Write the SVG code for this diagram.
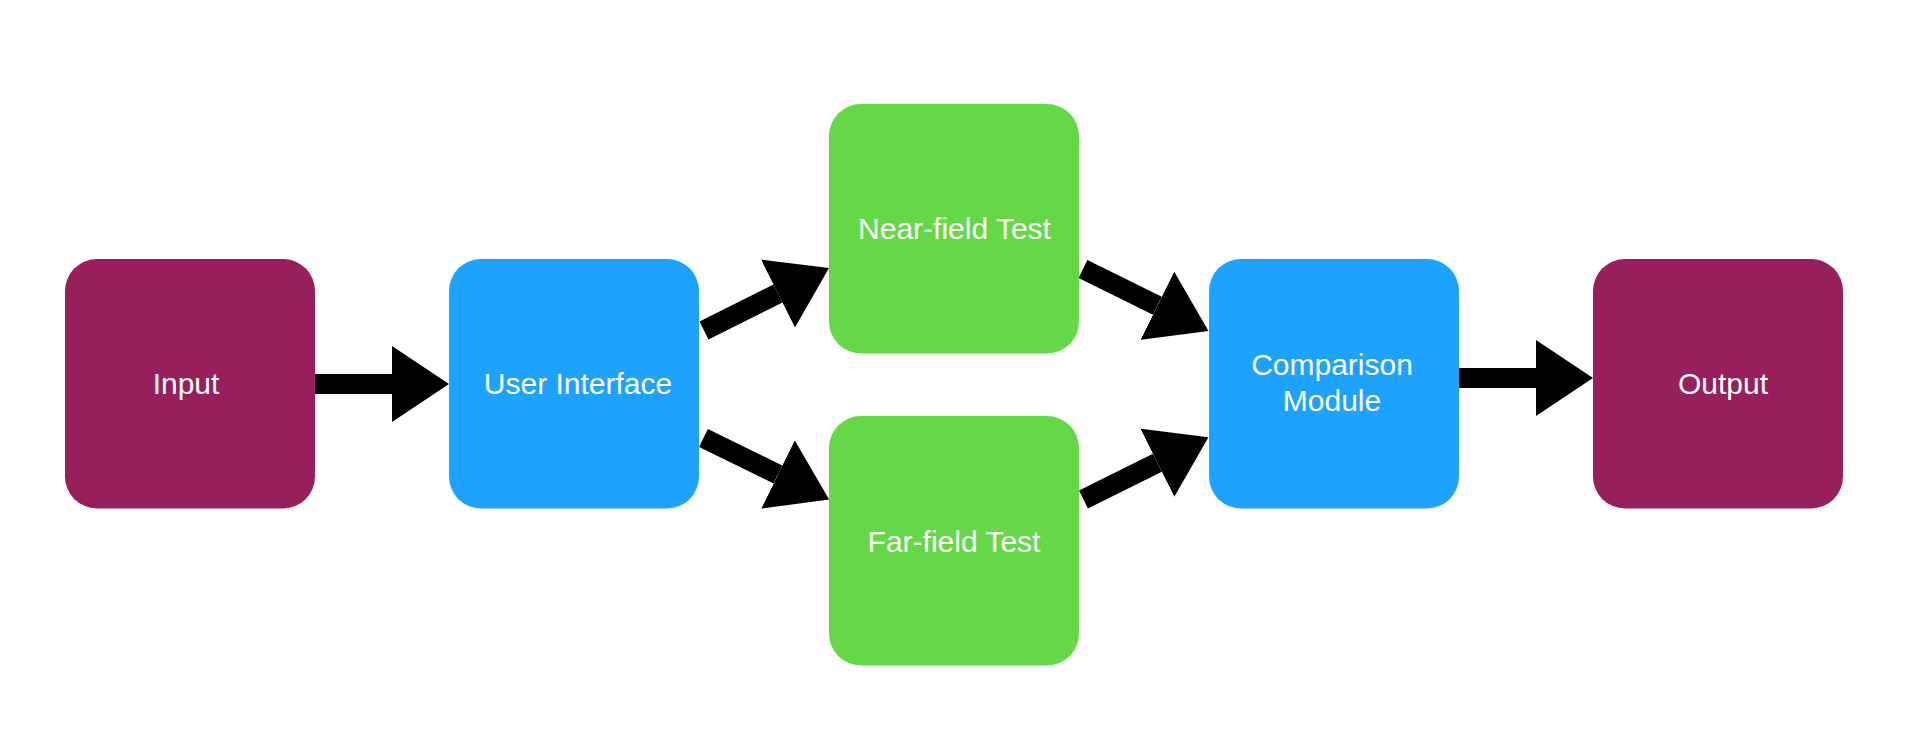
<svg xmlns="http://www.w3.org/2000/svg" width="1920" height="750" viewBox="0 0 1920 750">
  <style>
    .io { fill: #961F5C; }
    .blue { fill: #1DA2FD; }
    .green { fill: #65D847; }
    .label { fill: #FFFFFF; font-family: "Liberation Sans", Arial, Helvetica, sans-serif; font-size: 30px; text-anchor: middle; }
    .conn { stroke: #000000; stroke-width: 20; fill: none; stroke-linecap: butt; }
  </style>
  <defs>
    <marker id="head" markerUnits="userSpaceOnUse" viewBox="0 0 57 76" refX="0" refY="38" markerWidth="57" markerHeight="76" orient="auto">
      <path d="M0,0 L57,38 L0,76 Z" fill="#000000"/>
    </marker>
  </defs>
  <rect width="1920" height="750" fill="#FFFFFF"/>

  <g id="connectors">
    <line class="conn" x1="315" y1="384" x2="392" y2="384" marker-end="url(#head)"/>
    <line class="conn" x1="704" y1="330.5" x2="778" y2="293.5" marker-end="url(#head)"/>
    <line class="conn" x1="703.5" y1="438" x2="778" y2="474.5" marker-end="url(#head)"/>
    <line class="conn" x1="1083" y1="269" x2="1157.4" y2="305.8" marker-end="url(#head)"/>
    <line class="conn" x1="1083.5" y1="499.5" x2="1157.4" y2="462.7" marker-end="url(#head)"/>
    <line class="conn" x1="1459" y1="378" x2="1536" y2="378" marker-end="url(#head)"/>
  </g>

  <g id="node-input">
    <rect class="io" x="65" y="259" width="250" height="249.5" rx="32" ry="32"/>
    <text class="label" x="186" y="394">Input</text>
  </g>
  <g id="node-user-interface">
    <rect class="blue" x="449" y="259" width="250" height="249.5" rx="32" ry="32"/>
    <text class="label" x="578" y="393.5">User Interface</text>
  </g>
  <g id="node-near-field">
    <rect class="green" x="829" y="104" width="250" height="249.5" rx="32" ry="32"/>
    <text class="label" x="954.5" y="239">Near-field Test</text>
  </g>
  <g id="node-far-field">
    <rect class="green" x="829" y="416" width="250" height="249.5" rx="32" ry="32"/>
    <text class="label" x="954" y="551.5">Far-field Test</text>
  </g>
  <g id="node-comparison">
    <rect class="blue" x="1209" y="259" width="250" height="249.5" rx="32" ry="32"/>
    <text class="label" x="1332" y="375">Comparison</text>
    <text class="label" x="1332" y="410.7">Module</text>
  </g>
  <g id="node-output">
    <rect class="io" x="1593" y="259" width="250" height="249.5" rx="32" ry="32"/>
    <text class="label" x="1723" y="394">Output</text>
  </g>
</svg>
